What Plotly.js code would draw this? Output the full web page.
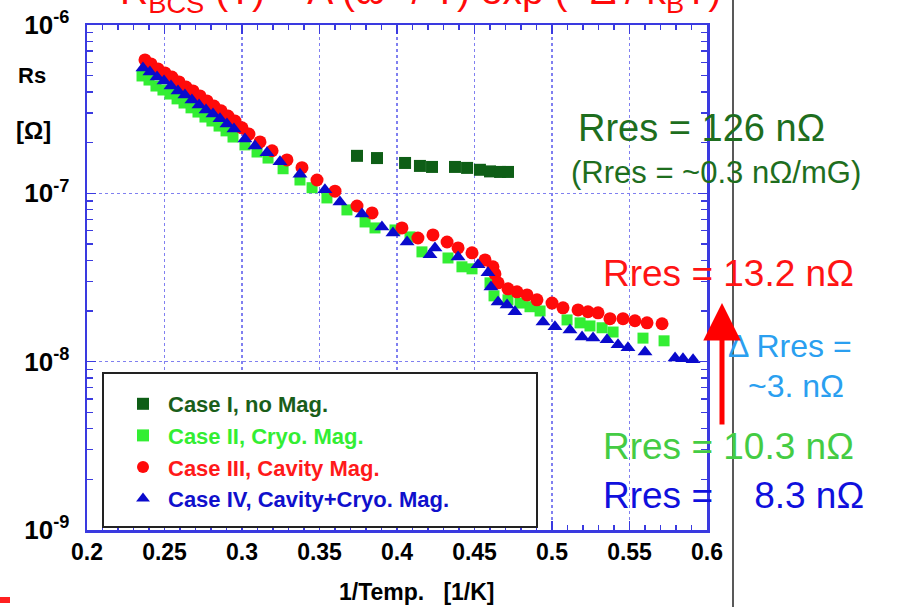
<!DOCTYPE html>
<html>
<head>
<meta charset="utf-8">
<script src="https://cdn.plot.ly/plotly-3.0.1.min.js"></script>
<style>html,body{margin:0;padding:0;background:#fff;}#chart{width:908px;height:607px;}</style>
</head>
<body>
<div id="chart"></div>
<script>
// Case I, no Mag.
const case1X = [0.3742, 0.3871, 0.4052, 0.4148, 0.4226, 0.4374, 0.4452, 0.4535, 0.4600, 0.4665, 0.4716];
const case1Y = [1.67e-7, 1.62e-7, 1.515e-7, 1.455e-7, 1.435e-7, 1.435e-7, 1.416e-7, 1.38e-7, 1.35e-7, 1.34e-7, 1.34e-7];
// Case II, Cryo. Mag.
const case2X = [0.2355, 0.2400, 0.2445, 0.2490, 0.2535, 0.2581, 0.2626, 0.2671, 0.2716, 0.2761, 0.2806, 0.2852, 0.2897, 0.2942, 0.3019, 0.3097, 0.3168, 0.3265, 0.3374, 0.3452, 0.3548, 0.3677, 0.3794, 0.3858, 0.3987, 0.4084, 0.4161, 0.4329, 0.4419, 0.4484, 0.4600, 0.4626, 0.4716, 0.4794, 0.4858, 0.4923, 0.5097, 0.5181, 0.5245, 0.5323, 0.5394, 0.5587, 0.5723];
const case2Y = [4.98e-7, 4.71e-7, 4.34e-7, 4.11e-7, 3.89e-7, 3.64e-7, 3.44e-7, 3.22e-7, 3.04e-7, 2.84e-7, 2.69e-7, 2.51e-7, 2.35e-7, 2.16e-7, 1.94e-7, 1.76e-7, 1.62e-7, 1.40e-7, 1.20e-7, 1.08e-7, 9.39e-8, 7.97e-8, 6.76e-8, 6.23e-8, 6.06e-8, 5.51e-8, 4.49e-8, 4.13e-8, 3.66e-8, 3.56e-8, 2.94e-8, 2.46e-8, 2.33e-8, 2.23e-8, 2.12e-8, 2.00e-8, 1.77e-8, 1.70e-8, 1.63e-8, 1.59e-8, 1.50e-8, 1.38e-8, 1.33e-8];
// Case III, Cavity Mag.
const case3X = [0.2374, 0.2413, 0.2458, 0.2503, 0.2548, 0.2594, 0.2639, 0.2684, 0.2729, 0.2774, 0.2819, 0.2865, 0.2910, 0.2955, 0.3000, 0.3045, 0.3116, 0.3194, 0.3290, 0.3387, 0.3484, 0.3600, 0.3742, 0.3839, 0.4032, 0.4135, 0.4232, 0.4323, 0.4394, 0.4484, 0.4568, 0.4619, 0.4632, 0.4652, 0.4716, 0.4774, 0.4839, 0.4903, 0.5000, 0.5071, 0.5168, 0.5232, 0.5297, 0.5374, 0.5458, 0.5535, 0.5613, 0.5710];
const case3Y = [6.20e-7, 5.87e-7, 5.48e-7, 5.19e-7, 4.91e-7, 4.59e-7, 4.28e-7, 4.06e-7, 3.79e-7, 3.54e-7, 3.30e-7, 3.09e-7, 2.88e-7, 2.69e-7, 2.45e-7, 2.25e-7, 2.02e-7, 1.79e-7, 1.58e-7, 1.42e-7, 1.20e-7, 1.03e-7, 8.41e-8, 7.65e-8, 6.23e-8, 5.43e-8, 5.66e-8, 5.14e-8, 4.74e-8, 4.43e-8, 4.02e-8, 3.66e-8, 3.32e-8, 2.94e-8, 2.71e-8, 2.60e-8, 2.49e-8, 2.33e-8, 2.23e-8, 2.09e-8, 2.03e-8, 1.98e-8, 1.95e-8, 1.80e-8, 1.80e-8, 1.75e-8, 1.70e-8, 1.68e-8];
// Case IV, Cavity+Cryo. Mag.
const case4X = [0.2361, 0.2406, 0.2452, 0.2497, 0.2542, 0.2587, 0.2632, 0.2677, 0.2723, 0.2768, 0.2813, 0.2858, 0.2903, 0.2948, 0.3019, 0.3084, 0.3161, 0.3245, 0.3374, 0.3535, 0.3632, 0.3774, 0.3903, 0.3974, 0.4065, 0.4213, 0.4245, 0.4394, 0.4523, 0.4587, 0.4606, 0.4652, 0.4710, 0.4761, 0.4942, 0.5019, 0.5116, 0.5194, 0.5265, 0.5355, 0.5426, 0.5490, 0.5600, 0.5794, 0.5845, 0.5910];
const case4Y = [5.56e-7, 5.26e-7, 4.91e-7, 4.65e-7, 4.34e-7, 4.06e-7, 3.84e-7, 3.59e-7, 3.35e-7, 3.13e-7, 2.96e-7, 2.77e-7, 2.58e-7, 2.41e-7, 2.10e-7, 1.91e-7, 1.74e-7, 1.54e-7, 1.30e-7, 1.05e-7, 8.89e-8, 7.54e-8, 6.32e-8, 5.82e-8, 5.14e-8, 4.31e-8, 4.74e-8, 4.19e-8, 3.76e-8, 3.37e-8, 2.78e-8, 2.26e-8, 2.17e-8, 1.98e-8, 1.72e-8, 1.61e-8, 1.54e-8, 1.40e-8, 1.38e-8, 1.35e-8, 1.26e-8, 1.21e-8, 1.14e-8, 1.05e-8, 1.04e-8, 1.025e-8];

const seriesNames = ['Case I, no Mag.', 'Case II, Cryo. Mag.', 'Case III, Cavity Mag.', 'Case IV, Cavity+Cryo. Mag.'];
const yTickVals = [1e-9, 1e-8, 1e-7, 1e-6];
const yTickText = ['10<sup>-9</sup>', '10<sup>-8</sup>', '10<sup>-7</sup>', '10<sup>-6</sup>'];
const xTickVals = [0.2, 0.25, 0.3, 0.35, 0.4, 0.45, 0.5, 0.55, 0.6];
const xTickText = ['0.2', '0.25', '0.3', '0.35', '0.4', '0.45', '0.5', '0.55', '0.6'];

const cDark = '#0e5e16', cLight = '#33ee33', cRed = '#ff0a0a', cBlue = '#0a0acc';
const F = 'Arial, "Liberation Sans", sans-serif';

function lg(name, col) { return '<span style="color:' + col + '"><b>' + name + '</b></span>'; }

const traces = [
  {x: case1X, y: case1Y, type: 'scatter', mode: 'markers', name: lg(seriesNames[0], '#1a5e1a'),
   marker: {symbol: 'square', size: 12, color: cDark}},
  {x: case2X, y: case2Y, type: 'scatter', mode: 'markers', name: lg(seriesNames[1], '#33ee33'),
   marker: {symbol: 'square', size: 11, color: cLight}},
  {x: case3X, y: case3Y, type: 'scatter', mode: 'markers', name: lg(seriesNames[2], '#ff1a1a'),
   marker: {symbol: 'circle', size: 13, color: cRed}},
  {x: case4X, y: case4Y, type: 'scatter', mode: 'markers', name: lg(seriesNames[3], '#1010cc'),
   marker: {symbol: 'triangle-up', size: 13, color: cBlue}}
];

const axisBlue = '#3a3ae0';
const gridBlue = '#8080f0';

function px(x) { return (x - 87) / 620; }
function py(y) { return (530 - y) / 505; }

function txt(text, x, y, size, color, extra) {
  return Object.assign({text: text, xref: 'paper', yref: 'paper', x: px(x), y: py(y), xanchor: 'left', yanchor: 'middle',
    showarrow: false, font: {family: F, size: size, color: color}}, extra || {});
}

const annotations = [
  txt('R<sub>BCS</sub> (T) = A (ω<sup>2</sup> / T) exp (−Δ / k<sub>B</sub>T)', 118, -9, 39, cRed),
  txt('<b>Rs</b>', 16, 76, 22, '#000'),
  txt('<b>[Ω]</b>', 14, 130, 24, '#000'),
  {text: '<b>1/Temp.   [1/K]</b>', xref: 'paper', yref: 'paper', x: px(417), y: py(592), xanchor: 'center', yanchor: 'middle',
   showarrow: false, font: {family: F, size: 23, color: '#000'}},
  txt('Rres = 126 nΩ', 576, 128, 38, '#1e6e1e'),
  txt('(Rres = ~0.3 nΩ/mG)', 569, 172, 31, '#1e6e1e'),
  txt('Rres = 13.2 nΩ', 601, 273, 37, '#ff1414'),
  txt('Δ Rres =', 726, 346, 32, '#2a9ff0'),
  txt('~3. nΩ', 746, 386, 32, '#2a9ff0'),
  txt('Rres = 10.3 nΩ', 601, 446, 37, '#44cc44'),
  txt('Rres =\u00a0\u00a0\u00a0 8.3 nΩ', 601, 496, 37, '#1010dd'),
  {text: '', xref: 'paper', yref: 'paper', x: px(722), y: py(303), ax: 0, ay: 123, axref: 'pixel', ayref: 'pixel',
   showarrow: true, arrowhead: 2, arrowsize: 1.5, arrowwidth: 5, arrowcolor: '#ff0000'}
];

const shapes = [
  {type: 'line', xref: 'paper', yref: 'paper', x0: px(733), x1: px(733), y0: py(607), y1: py(0), line: {color: '#222', width: 1.5}},
  {type: 'rect', xref: 'paper', yref: 'paper', x0: px(0), x1: px(10), y0: py(603), y1: py(597), fillcolor: '#ff2020', line: {width: 0}},
  {type: 'rect', xref: 'paper', yref: 'paper', x0: px(103), x1: px(537), y0: py(527), y1: py(373), fillcolor: '#fff', line: {color: '#222', width: 2}, layer: 'above'}
];

const layout = {
  width: 908, height: 607,
  margin: {l: 87, r: 201, t: 25, b: 77},
  paper_bgcolor: '#fff', plot_bgcolor: '#fff',
  showlegend: true,
  legend: {x: px(118), y: py(383), xanchor: 'left', yanchor: 'top', bgcolor: 'rgba(0,0,0,0)', borderwidth: 0,
    font: {family: F, size: 22, color: '#000'}, tracegroupgap: 0, itemsizing: 'constant', itemwidth: 40},
  xaxis: {range: [0.2, 0.6], tickvals: xTickVals, ticktext: xTickText, ticks: 'inside', ticklen: 9, tickwidth: 1.5, tickcolor: axisBlue,
    showline: true, linecolor: axisBlue, linewidth: 2.5, mirror: 'ticks', showgrid: true, gridcolor: gridBlue, griddash: 'dot', gridwidth: 1.2,
    zeroline: false, tickfont: {family: F, size: 23, color: '#000', weight: 'bold'},
    minor: {dtick: 0.01, ticks: 'inside', ticklen: 5, tickcolor: axisBlue, tickwidth: 1.2, showgrid: false}},
  yaxis: {type: 'log', range: [-9, -6], tickvals: yTickVals, ticktext: yTickText, ticks: 'inside', ticklen: 9, tickwidth: 1.5, tickcolor: axisBlue,
    showline: true, linecolor: axisBlue, linewidth: 2.5, mirror: 'ticks', showgrid: true, gridcolor: gridBlue, griddash: 'dot', gridwidth: 1.2,
    zeroline: false, tickfont: {family: F, size: 26, color: '#000', weight: 'bold'}, ticklabelstandoff: 10,
    minor: {tickvals: [2e-9,3e-9,4e-9,5e-9,6e-9,7e-9,8e-9,9e-9,2e-8,3e-8,4e-8,5e-8,6e-8,7e-8,8e-8,9e-8,2e-7,3e-7,4e-7,5e-7,6e-7,7e-7,8e-7,9e-7],
      ticks: 'inside', ticklen: 6, tickcolor: axisBlue, tickwidth: 1.2, showgrid: false}},
  annotations: annotations,
  shapes: shapes
};

Plotly.newPlot('chart', traces, layout, {displayModeBar: false, staticPlot: true});
</script>
</body>
</html>
